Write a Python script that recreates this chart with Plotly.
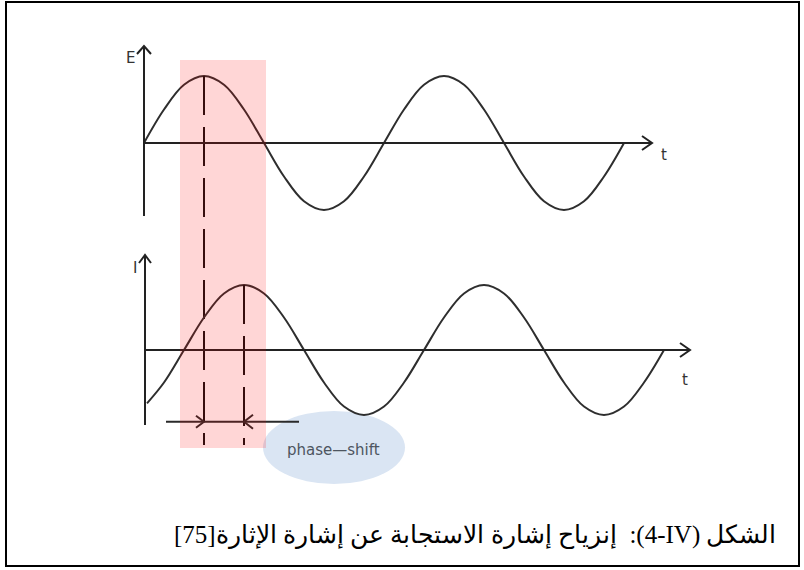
import plotly.graph_objects as go

W, H = 804, 570

# ---------------- data (phase in degrees, normalised amplitude) ----------------
E_T = [0, 30, 60, 90, 120, 150, 180, 210, 240, 270, 300, 330, 360,
       390, 420, 450, 480, 510, 540, 570, 600, 630, 660, 690, 720]
E_V = [0, 0.5, 0.87, 1, 0.87, 0.5, 0, -0.5, -0.87, -1, -0.87, -0.5, 0,
       0.5, 0.87, 1, 0.87, 0.5, 0, -0.5, -0.87, -1, -0.87, -0.5, 0]

I_T = [4.5, 30, 60, 90, 120, 150, 180, 210, 240, 270, 300, 330, 360,
       390, 420, 450, 480, 510, 540, 570, 600, 630, 660, 690, 720, 750, 780]
I_V = [-0.82, -0.5, 0, 0.5, 0.87, 1, 0.87, 0.5, 0, -0.5, -0.87, -1, -0.87,
       -0.5, 0, 0.5, 0.87, 1, 0.87, 0.5, 0, -0.5, -0.87, -1, -0.87, -0.5, 0]

E_PEAK_T = 90     # first peak of excitation
I_PEAK_T = 150    # first peak of response (60 deg later)

CAPTION_HEAD = "الشكل"
CAPTION_REF = "(4-IV)"
CAPTION_BODY = ":  إنزياح إشارة الاستجابة عن إشارة الإثارة[75]"
PHASE_LABEL = "phase\u2014shift"

# ---------------- layout constants (pixels) ----------------
X0, KX = 144, 240 / 360          # t=0 position, px per degree
EY0, EK = 143, 67                # E axis baseline, px per unit
IY0, IK = 350, 65                # I axis baseline, px per unit


def t_of(p):
    return (p - X0) / KX


def e_of(py):
    return (EY0 - py) / EK


def i_of(py):
    return (IY0 - py) / IK


def P(x, y):
    return f"{x / W:.5f},{1 - y / H:.5f}"


fig = go.Figure()

curve_line = dict(color="#2e2e2e", width=2, shape="spline", smoothing=1.0)
fig.add_trace(go.Scatter(x=E_T, y=E_V, mode="lines", line=curve_line,
                         yaxis="y", hoverinfo="skip"))
fig.add_trace(go.Scatter(x=I_T, y=I_V, mode="lines", line=curve_line,
                         yaxis="y2", hoverinfo="skip"))

dash_line = dict(color="#111111", width=2, dash="39px,12px")
fig.add_trace(go.Scatter(x=[E_PEAK_T, E_PEAK_T], y=[1, e_of(445)], mode="lines",
                         line=dash_line, yaxis="y", hoverinfo="skip"))
fig.add_trace(go.Scatter(x=[I_PEAK_T, I_PEAK_T], y=[1, i_of(445)], mode="lines",
                         line=dash_line, yaxis="y2", hoverinfo="skip"))

shapes = []
ax_line = dict(color="#222222", width=2)


def seg(x0, y0, x1, y1, line=ax_line, layer="above"):
    shapes.append(dict(type="path", xref="paper", yref="paper",
                       path=f"M{P(x0, y0)} L{P(x1, y1)}", line=line, layer=layer))


def chevron(tx, ty, direction, back, spread, line=ax_line):
    if direction == "up":
        a, b = (tx - spread, ty + back), (tx + spread, ty + back)
    elif direction == "right":
        a, b = (tx - back, ty - spread), (tx - back, ty + spread)
    else:  # left
        a, b = (tx + back, ty - spread), (tx + back, ty + spread)
    shapes.append(dict(type="path", xref="paper", yref="paper",
                       path=f"M{P(*a)} L{P(tx, ty)} L{P(*b)}", line=line,
                       layer="above"))


# frame
shapes.append(dict(type="rect", xref="paper", yref="paper",
                   x0=6 / W, x1=799 / W, y0=1 - 566 / H, y1=1 - 2 / H,
                   line=dict(color="#000000", width=2), layer="below"))
# ellipse behind the label
shapes.append(dict(type="circle", xref="paper", yref="paper",
                   x0=263 / W, x1=405 / W, y0=1 - 484 / H, y1=1 - 411 / H,
                   fillcolor="#dae5f3", line=dict(width=0), layer="below"))

# axes for E
seg(X0, 46, X0, 216)
chevron(X0, 46, "up", 8, 7)
seg(X0, EY0, 652, EY0)
chevron(652, EY0, "right", 10, 7)
# axes for I
seg(145, 255, 145, 425)
chevron(145, 255, "up", 8, 6)
seg(145, IY0, 690, IY0)
chevron(690, IY0, "right", 10, 7)

# phase-shift marker
pm = dict(color="#2a2a2a", width=2)
seg(166, 421.7, 299, 421.7, line=pm)
chevron(X0 + E_PEAK_T * KX, 421.7, "right", 8, 6, line=pm)
chevron(X0 + I_PEAK_T * KX, 421.7, "left", 9, 7, line=pm)

# translucent highlight band (drawn above so lines turn maroon)
shapes.append(dict(type="rect", xref="paper", yref="paper",
                   x0=180 / W, x1=266 / W, y0=1 - 448 / H, y1=1 - 60 / H,
                   fillcolor="rgba(255,0,0,0.16)", line=dict(width=0),
                   layer="above"))

annotations = []


def label(text, x, y, size, color="#333333", family="DejaVu Sans"):
    annotations.append(dict(text=text, x=x / W, y=1 - y / H, xref="paper",
                            yref="paper", showarrow=False, xanchor="center",
                            yanchor="middle",
                            font=dict(size=size, color=color, family=family)))


label("E", 130, 58, 15)
label("I", 135, 268, 15)
label("t", 664, 155, 15)
label("t", 685, 380, 15)
label(PHASE_LABEL, 333, 450, 15, color="#4d5560")

caption = ("\u202B" + CAPTION_HEAD + " \u2066" + CAPTION_REF + "\u2069"
           + CAPTION_BODY + "\u202C")
annotations.append(dict(text=caption, x=778 / W, y=1 - 535 / H,
                        xref="paper", yref="paper", showarrow=False,
                        xanchor="right", yanchor="middle",
                        font=dict(size=25, color="#000000",
                                  family="Liberation Serif, DejaVu Serif, serif")))

fig.update_layout(
    width=W, height=H, autosize=False,
    margin=dict(l=0, r=0, t=0, b=0, pad=0),
    paper_bgcolor="white", plot_bgcolor="rgba(0,0,0,0)",
    showlegend=False,
    xaxis=dict(range=[t_of(0), t_of(W)], visible=False, fixedrange=True),
    yaxis=dict(range=[e_of(H), e_of(0)], visible=False, fixedrange=True),
    yaxis2=dict(range=[i_of(H), i_of(0)], visible=False, fixedrange=True,
                overlaying="y"),
    shapes=shapes,
    annotations=annotations,
)

fig.write_html("out.html", config={"displayModeBar": False, "staticPlot": True},
               post_script="document.body.style.margin='0';")
